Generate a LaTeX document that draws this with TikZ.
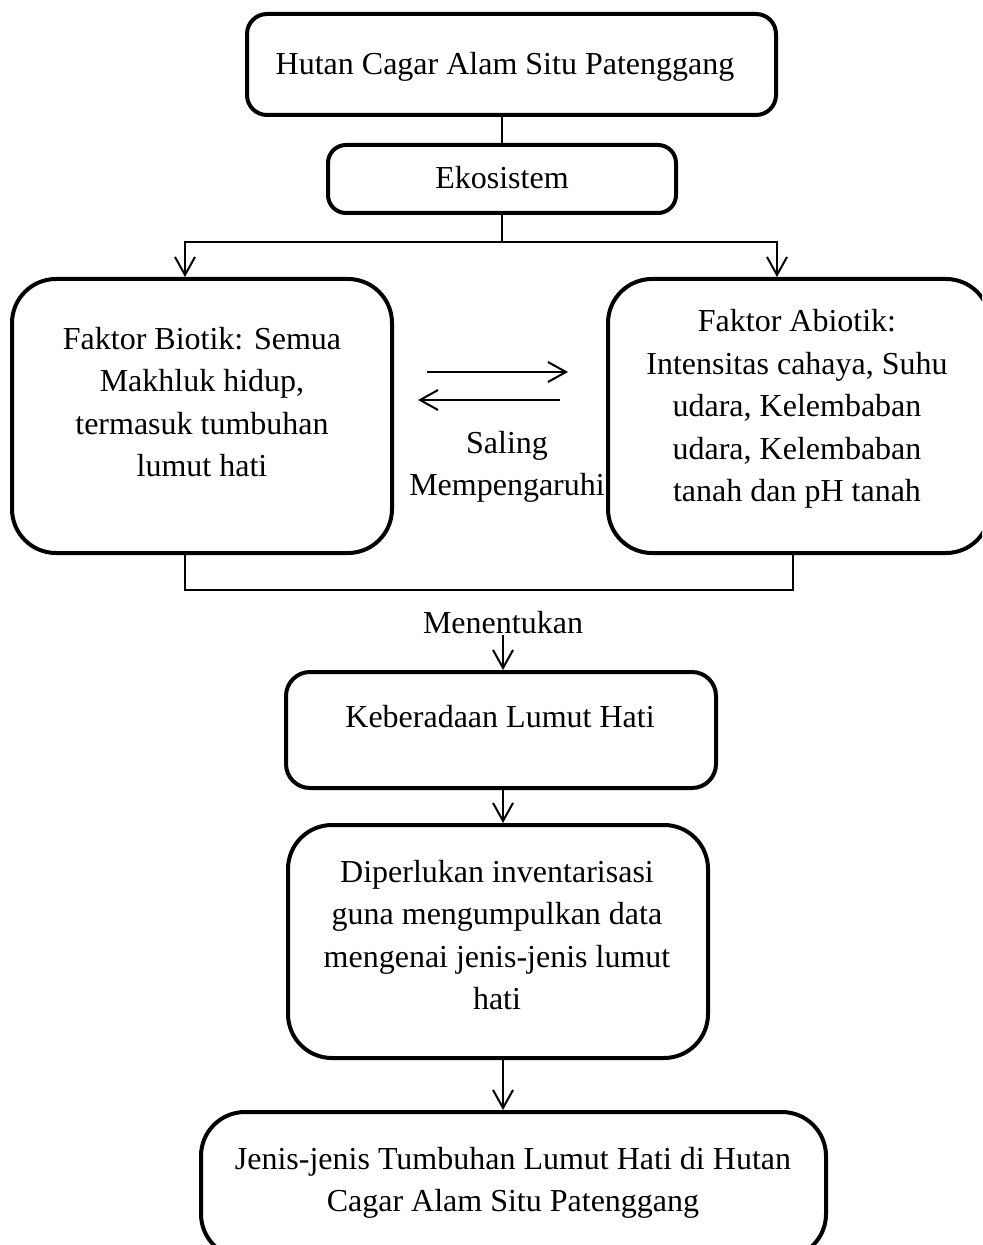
\documentclass[tikz,border=0pt]{standalone}
\usepackage{fontspec}
\setmainfont{Liberation Serif}
\usetikzlibrary{arrows.meta}
\tikzset{
  box/.style={draw=black, line width=2pt, rectangle, inner sep=0pt, fill=none},
  txt/.style={inner sep=0pt, align=center, font=\fontsize{16}{21.25}\selectfont},
  conn/.style={draw=black, line width=1pt},
  arr/.style={conn, -{Straight Barb[length=9pt,width=10pt]}}
}
\begin{document}
\begin{tikzpicture}[x=0.5pt,y=-0.5pt]
\useasboundingbox (0,0) rectangle (982,1245);
\clip (0,0) rectangle (982,1245);
% boxes
\node[box, rounded corners=10pt, minimum width=264.5pt, minimum height=50.5pt] (top) at (511.5,64.5) {};
\node[box, rounded corners=9pt, minimum width=174pt, minimum height=34pt] (eko) at (502,179) {};
\node[box, rounded corners=22pt, minimum width=190pt, minimum height=137pt] (bio) at (202,416) {};
\node[box, rounded corners=22pt, minimum width=191pt, minimum height=137pt] (abio) at (799,416) {};
\node[box, rounded corners=12pt, minimum width=215pt, minimum height=58pt] (keb) at (501,730) {};
\node[box, rounded corners=22pt, minimum width=210pt, minimum height=116.5pt] (inv) at (498,941.5) {};
\node[box, rounded corners=22pt, minimum width=312.5pt, minimum height=73pt] (jen) at (513.5,1185) {};
% texts
\node[txt] (ttop) at (505,67) {Hutan Cagar Alam Situ Patenggang};
\node[txt] (teko) at (502,178) {Ekosistem};
\node[txt] (tbio) at (202,402) {Faktor Biotik: Semua\\Makhluk hidup,\\termasuk tumbuhan\\lumut hati};
\node[txt] (tabio) at (797,409) {Faktor Abiotik:\\Intensitas cahaya, Suhu\\udara, Kelembaban\\udara, Kelembaban\\tanah dan pH tanah};
\node[txt] (saling) at (507,467) {Saling\\Mempengaruhi};
\node[txt] (men) at (503,623) {Menentukan};
\node[txt] (tkeb) at (500,717) {Keberadaan Lumut Hati};
\node[txt] (tinv) at (497,935) {Diperlukan inventarisasi\\guna mengumpulkan data\\mengenai jenis-jenis lumut\\hati};
\node[txt] (tjen) at (513,1183) {Jenis-jenis Tumbuhan Lumut Hati di Hutan\\Cagar Alam Situ Patenggang};
% connectors
\coordinate (bl) at (185,242);
\coordinate (br) at (777,242);
\coordinate (jl) at (185,590);
\coordinate (jr) at (793,590);
\coordinate (ra1) at (427,372);
\coordinate (ra2) at (568,372);
\coordinate (la1) at (560,400);
\coordinate (la2) at (418,400);
\draw[conn] (eko.north |- top.south) -- (eko.north);
\draw[arr] (eko.south) |- (bl) -- (bl |- bio.north);
\draw[arr] (eko.south) |- (br) -- (br |- abio.north);
\draw[conn] (bio.south -| jl) -- (jl) -- (jr) -- (abio.south -| jr);
\draw[arr] (ra1) -- (ra2);
\draw[arr] (la1) -- (la2);
\draw[arr] (men.south) -- (men.south |- keb.north);
\draw[arr] (keb.south -| men.south) -- (men.south |- inv.north);
\draw[arr] (inv.south -| men.south) -- (men.south |- jen.north);
\end{tikzpicture}
\end{document}
